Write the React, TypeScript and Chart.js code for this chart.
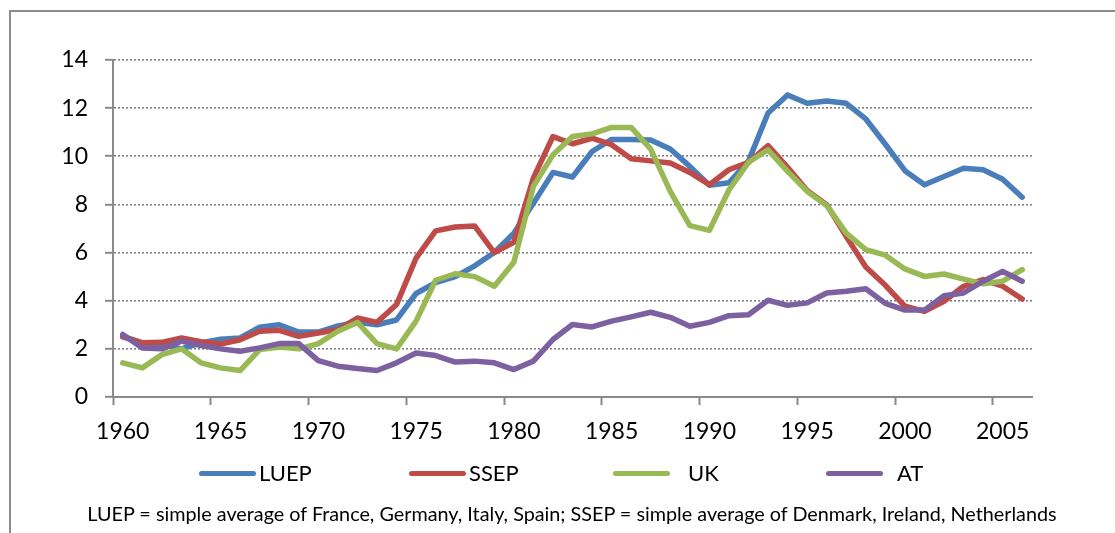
import React, { useEffect, useRef } from "react";
import { Chart, registerables } from "chart.js";

Chart.register(...registerables);

const years = [
  "1960", "1961", "1962", "1963", "1964", "1965", "1966", "1967", "1968", "1969",
  "1970", "1971", "1972", "1973", "1974", "1975", "1976", "1977", "1978", "1979",
  "1980", "1981", "1982", "1983", "1984", "1985", "1986", "1987", "1988", "1989",
  "1990", "1991", "1992", "1993", "1994", "1995", "1996", "1997", "1998", "1999",
  "2000", "2001", "2002", "2003", "2004", "2005", "2006",
];

const luep = [
  2.5, 2.25, 2.2, 2.0, 2.25, 2.4, 2.45, 2.9, 3.0, 2.7,
  2.7, 2.95, 3.1, 3.0, 3.2, 4.3, 4.75, 5.0, 5.45, 6.0,
  6.8, 8.05, 9.33, 9.14, 10.2, 10.7, 10.7, 10.68, 10.3, 9.58,
  8.8, 8.9, 9.8, 11.8, 12.55, 12.2, 12.3, 12.2, 11.55, 10.5,
  9.4, 8.82, 9.16, 9.5, 9.44, 9.05, 8.3,
];

const ssep = [
  2.52, 2.25, 2.27, 2.45, 2.3, 2.2, 2.38, 2.73, 2.77, 2.52,
  2.66, 2.8, 3.28, 3.1, 3.84, 5.77, 6.9, 7.06, 7.1, 6.0,
  6.43, 9.1, 10.82, 10.52, 10.75, 10.48, 9.9, 9.81, 9.72, 9.33,
  8.82, 9.44, 9.75, 10.44, 9.54, 8.58, 7.99, 6.67, 5.4, 4.64,
  3.77, 3.56, 3.98, 4.6, 4.88, 4.6, 4.07,
];

const uk = [
  1.42, 1.21, 1.76, 2.0, 1.42, 1.21, 1.1, 1.97, 2.08, 2.0,
  2.22, 2.73, 3.1, 2.22, 2.0, 3.15, 4.85, 5.12, 5.0, 4.6,
  5.6, 8.75, 10.06, 10.82, 10.93, 11.2, 11.2, 10.3, 8.54, 7.12,
  6.92, 8.6, 9.75, 10.27, 9.37, 8.54, 7.96, 6.81, 6.12, 5.89,
  5.32, 5.01, 5.11, 4.9, 4.7, 4.81, 5.29,
];

const at = [
  2.6, 2.04, 2.0, 2.32, 2.14, 2.0, 1.9, 2.04, 2.22, 2.22,
  1.51, 1.28, 1.18, 1.1, 1.42, 1.83, 1.72, 1.45, 1.49, 1.42,
  1.14, 1.49, 2.39, 3.01, 2.91, 3.15, 3.33, 3.52, 3.31, 2.94,
  3.1, 3.38, 3.42, 4.02, 3.81, 3.91, 4.32, 4.39, 4.5, 3.89,
  3.61, 3.61, 4.21, 4.32, 4.81, 5.22, 4.81,
];

const seriesNames = ["LUEP", "SSEP", "UK", "AT"];
const seriesValues = [luep, ssep, uk, at];
const seriesColors = ["#4A7EBB", "#BE4B48", "#98B954", "#7D60A0"];
const footnote =
  "LUEP = simple average of France, Germany, Italy, Spain; SSEP = simple average of Denmark, Ireland, Netherlands";

const FONT = "Lato, 'Open Sans', sans-serif";
const AXIS_GRAY = "#8a8a8a";

const legendLineX = [199, 409, 613, 826];
const legendTextX = [259, 469, 688, 897];

export default function App() {
  const canvasRef = useRef<HTMLCanvasElement | null>(null);

  useEffect(() => {
    if (!canvasRef.current) return;
    const chart = new Chart(canvasRef.current, {
      type: "line",
      data: {
        labels: years,
        datasets: seriesNames.map((name, i) => ({
          label: name,
          data: seriesValues[i],
          borderColor: seriesColors[i],
          backgroundColor: seriesColors[i],
          borderWidth: 5.5,
          pointRadius: 0,
          tension: 0,
          borderJoinStyle: "round" as const,
          borderCapStyle: "round" as const,
          fill: false,
          order: seriesNames.length - i,
        })),
      },
      options: {
        animation: false,
        responsive: true,
        maintainAspectRatio: false,
        layout: { padding: { left: 0, top: 60, right: 83, bottom: 86 } },
        plugins: {
          legend: { display: false },
          tooltip: { enabled: false },
          title: { display: false },
        },
        scales: {
          x: {
            type: "category",
            offset: true,
            afterFit: (scale: any) => {
              scale.height = 50;
            },
            grid: {
              offset: true,
              display: true,
              drawOnChartArea: false,
              drawTicks: true,
              tickLength: 8,
              tickWidth: 2,
              tickColor: (ctx: any) => (ctx.index % 5 === 0 ? AXIS_GRAY : "rgba(0,0,0,0)"),
              color: "rgba(0,0,0,0)",
            },
            border: { display: true, color: AXIS_GRAY, width: 2 },
            ticks: {
              autoSkip: false,
              maxRotation: 0,
              minRotation: 0,
              padding: 13,
              color: "#000",
              font: { family: FONT, size: 23 },
              callback: (_v: any, idx: number) => (idx % 5 === 0 ? years[idx] : ""),
            },
          },
          y: {
            min: 0,
            max: 14,
            afterFit: (scale: any) => {
              scale.width = 113;
            },
            grid: {
              display: true,
              drawOnChartArea: true,
              drawTicks: true,
              tickLength: 8,
              tickWidth: 2,
              tickColor: AXIS_GRAY,
              color: "#808080",
              lineWidth: 1.6,
            },
            border: { display: true, color: AXIS_GRAY, width: 2, dash: [2, 2] },
            ticks: {
              stepSize: 2,
              padding: 17,
              color: "#000",
              font: { family: FONT, size: 23 },
            },
          },
        },
      },
    });
    return () => chart.destroy();
  }, []);

  return (
    <div
      style={{
        position: "fixed",
        left: 0,
        top: 0,
        width: 1115,
        height: 533,
        background: "#fff",
        overflow: "hidden",
        fontFamily: FONT,
      }}
    >
      <div
        style={{
          position: "absolute",
          left: 9,
          top: 10,
          width: 1200,
          height: 600,
          border: "2px solid #8c8c8c",
          boxSizing: "border-box",
        }}
      />
      <div style={{ position: "absolute", left: 0, top: 0, width: 1115, height: 533 }}>
        <canvas ref={canvasRef} />
      </div>
      {seriesNames.map((name, i) => (
        <React.Fragment key={name}>
          <div
            style={{
              position: "absolute",
              left: legendLineX[i],
              top: 473 - 2.5,
              width: 57,
              height: 5,
              borderRadius: 3,
              background: seriesColors[i],
            }}
          />
          <div
            style={{
              position: "absolute",
              left: legendTextX[i],
              top: 473 - 15,
              height: 30,
              lineHeight: "30px",
              fontSize: 22,
              color: "#000",
              whiteSpace: "nowrap",
            }}
          >
            {name}
          </div>
        </React.Fragment>
      ))}
      <div
        style={{
          position: "absolute",
          left: 72,
          top: 513 - 13,
          width: 1000,
          height: 26,
          lineHeight: "26px",
          fontSize: 19.8,
          color: "#000",
          textAlign: "center",
          whiteSpace: "nowrap",
        }}
      >
        {footnote}
      </div>
    </div>
  );
}
